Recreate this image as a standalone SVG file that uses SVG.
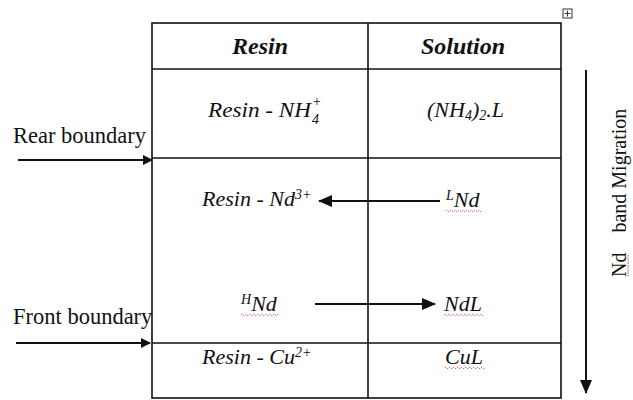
<svg xmlns="http://www.w3.org/2000/svg" width="633" height="400" viewBox="0 0 633 400">
  <style>
    .grid { stroke: #111; stroke-width: 1.6; fill: none; }
    .hdr { font-family: "Liberation Serif", serif; font-size: 24px; font-style: italic; font-weight: bold; fill: #111; text-anchor: middle; }
    .cell { font-family: "Liberation Serif", serif; font-size: 22px; font-style: italic; fill: #111; }
    .lbl { font-family: "Liberation Serif", serif; font-size: 22.5px; fill: #111; }
    .sup { font-family: "Liberation Serif", serif; font-size: 14px; font-style: italic; fill: #111; }
    .wig { stroke: #e03030; stroke-width: 0.9; fill: none; stroke-dasharray: 1.5 1; }
    .conn { stroke: #111; stroke-width: 2; fill: none; }
  </style>
  <defs>
    <marker id="ah" markerWidth="10" markerHeight="10" refX="9" refY="5" orient="auto" markerUnits="userSpaceOnUse">
      <path d="M0,0 L10,5 L0,10 z" fill="#111"/>
    </marker>
    <marker id="ahL" markerWidth="14" markerHeight="14" refX="13" refY="7" orient="auto" markerUnits="userSpaceOnUse">
      <path d="M0,1 L14,7 L0,13 z" fill="#111"/>
    </marker>
  </defs>
  <rect width="633" height="400" fill="#fff"/>

  <!-- table frame -->
  <g id="table">
    <rect class="grid" x="152" y="23" width="409" height="375"/>
    <line class="grid" x1="152" y1="69" x2="561" y2="69"/>
    <line class="grid" x1="152" y1="158" x2="561" y2="158"/>
    <line class="grid" x1="152" y1="343" x2="561" y2="343"/>
    <line class="grid" x1="368" y1="23" x2="368" y2="398"/>
    <!-- table move handle -->
    <rect x="563" y="9" width="9" height="9" fill="#fff" stroke="#333" stroke-width="1"/>
    <path d="M567.5,10.5 V16.5 M564.5,13.5 H570.5" stroke="#333" stroke-width="1"/>
  </g>

  <g id="header">
    <text class="hdr" x="260" y="54">Resin</text>
    <text class="hdr" x="463" y="54">Solution</text>
  </g>

  <g id="row-ammonium">
    <text class="cell" x="208" y="117" textLength="103" lengthAdjust="spacingAndGlyphs">Resin - NH</text>
    <text class="sup" x="312" y="106">+</text>
    <text class="sup" x="312" y="124">4</text>
    <text class="cell" x="427" y="117">(NH<tspan class="sup" dy="3">4</tspan><tspan dy="-3">)</tspan><tspan class="sup" dy="3">2</tspan><tspan dy="-3">.L</tspan></text>
  </g>

  <g id="row-nd-resin">
    <text class="cell" x="202" y="206">Resin - Nd<tspan class="sup" dy="-7">3+</tspan></text>
  </g>
  <g id="row-nd-L">
    <text class="cell" x="446" y="207"><tspan class="sup" dy="-7">L</tspan><tspan dy="7">Nd</tspan></text>
    <path class="wig" d="M446,211 q1,-1.5 2,0 t2,0 t2,0 t2,0 t2,0 t2,0 t2,0 t2,0 t2,0 t2,0 t2,0 t2,0 t2,0 t2,0 t2,0 t2,0 t2,0 t2,0"/>
  </g>
  <g id="row-nd-H">
    <text class="cell" x="241" y="311"><tspan class="sup" dy="-7">H</tspan><tspan dy="7">Nd</tspan></text>
    <path class="wig" d="M241,315 q1,-1.5 2,0 t2,0 t2,0 t2,0 t2,0 t2,0 t2,0 t2,0 t2,0 t2,0 t2,0 t2,0 t2,0 t2,0 t2,0 t2,0 t2,0 t2,0 t2,0"/>
  </g>
  <g id="row-ndL">
    <text class="cell" x="444" y="311">NdL</text>
    <path class="wig" d="M444,315 q1,-1.5 2,0 t2,0 t2,0 t2,0 t2,0 t2,0 t2,0 t2,0 t2,0 t2,0 t2,0 t2,0 t2,0 t2,0 t2,0 t2,0 t2,0 t2,0 t2,0 t2,0"/>
  </g>

  <g id="row-cu">
    <text class="cell" x="202" y="364">Resin - Cu<tspan class="sup" dy="-7">2+</tspan></text>
    <text class="cell" x="445" y="364">CuL</text>
    <path class="wig" d="M445,368 q1,-1.5 2,0 t2,0 t2,0 t2,0 t2,0 t2,0 t2,0 t2,0 t2,0 t2,0 t2,0 t2,0 t2,0 t2,0 t2,0 t2,0 t2,0 t2,0 t2,0 t2,0"/>
  </g>

  <g id="rear-boundary">
    <text class="lbl" x="13" y="143">Rear boundary</text>
  </g>
  <g id="front-boundary">
    <text class="lbl" x="13" y="324">Front boundary</text>
  </g>

  <g id="migration">
    <text class="lbl" style="font-size:20px" transform="translate(626,277) rotate(-90)"><tspan>Nd</tspan><tspan dx="20">band Migration</tspan></text>
    <path class="wig" d="M628,255 v22" stroke-dasharray="1 1.5"/>
  </g>

  <!-- connectors -->
  <g id="connectors">
    <line class="conn" x1="18" y1="160" x2="152" y2="160" marker-end="url(#ah)"/>
    <line class="conn" x1="16" y1="343" x2="150" y2="343" marker-end="url(#ah)"/>
    <line class="conn" x1="440" y1="201" x2="319" y2="201" marker-end="url(#ahL)"/>
    <line class="conn" x1="315" y1="304" x2="435" y2="304" marker-end="url(#ahL)"/>
    <line class="conn" x1="586" y1="70" x2="586" y2="393" marker-end="url(#ahL)"/>
  </g>
</svg>
